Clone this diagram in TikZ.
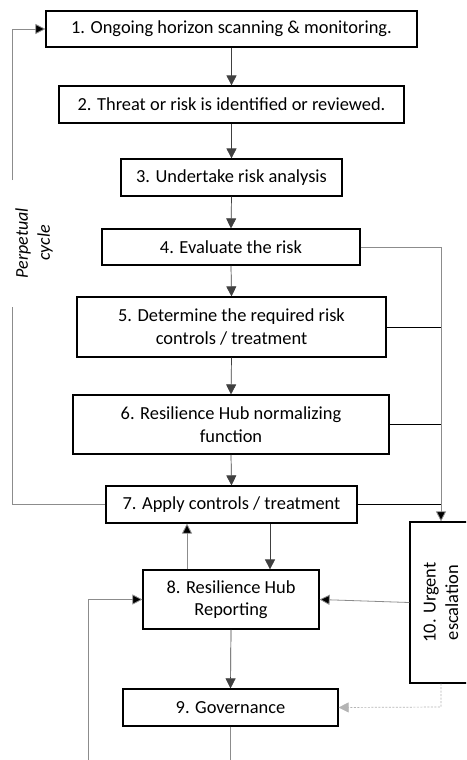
\documentclass[tikz,border=0pt]{standalone}
\usepackage{fontspec}
\setmainfont{Carlito}
\usetikzlibrary{arrows.meta}
\definecolor{linegray}{HTML}{8C8C8C}
\definecolor{lightg}{HTML}{B4B4B4}
\begin{document}
\begin{tikzpicture}[x=1pt,y=-1pt,
  box/.style={draw=black, line width=1.2pt, inner sep=0pt, align=center,
    font=\fontsize{18.4}{22.5}\selectfont},
  tip/.style={-{Triangle[width=10pt,length=10pt]}},
  conn/.style={draw=black!75, line width=0.7pt},
  gconn/.style={draw=linegray, line width=0.8pt},
  bconn/.style={draw=black, line width=0.8pt}]
\useasboundingbox (0,0) rectangle (466,760);
\clip (0,0) rectangle (466,760);
\fill[white] (0,0) rectangle (466,760);
% boxes
\node[box, minimum width=371pt, minimum height=36pt] (b1) at (231.5,29) {1. Ongoing horizon scanning \& monitoring.};
\node[box, minimum width=345pt, minimum height=37pt] (b2) at (231.5,104.5) {2. Threat or risk is identified or reviewed.};
\node[box, minimum width=221pt, minimum height=37pt] (b3) at (231.5,177.5) {3. Undertake risk analysis};
\node[box, minimum width=258pt, minimum height=36pt] (b4) at (231,247) {4. Evaluate the risk};
\node[box, minimum width=309pt, minimum height=60pt] (b5) at (231.5,327) {5. Determine the required risk\\controls / treatment};
\node[box, minimum width=316pt, minimum height=59pt] (b6) at (231,424.5) {6. Resilience Hub normalizing\\function};
\node[box, minimum width=251pt, minimum height=37pt] (b7) at (231.5,504.5) {7. Apply controls / treatment};
\node[box, minimum width=176pt, minimum height=59pt] (b8) at (231,599.5) {8. Resilience Hub\\Reporting};
\node[box, minimum width=215pt, minimum height=37pt] (b9) at (230.5,707.5) {9. Governance};
\node[box, minimum width=62pt, minimum height=161pt] (b10) at (441,602.5) {};
\node[rotate=90, align=center, font=\fontsize{18.4}{22.5}\selectfont] (t10) at (b10.center) {10. Urgent\\escalation};
\node[rotate=90, align=center, font=\fontsize{18}{22}\selectfont\itshape] (pc) at (34,243) {Perpetual\\cycle};
% helper coordinates
\coordinate (xl) at (12,0);
\coordinate (lgapA) at (12,307);
\coordinate (lgapB) at (12,180);
\coordinate (xr) at (441,0);
\coordinate (x270) at (270,0);
\coordinate (x187) at (187,0);
\coordinate (x88) at (88,0);
\coordinate (ybot) at (0,770);
\coordinate (ydash) at (0,707);
% main chain
\draw[conn, tip] (b1.south) -- (b2.north);
\draw[conn, tip] (b2.south) -- (b3.north);
\draw[conn, tip] (b3.south) -- (b4.north);
\draw[conn, tip] (b4.south) -- (b5.north);
\draw[conn, tip] (b5.south) -- (b6.north);
\draw[conn, tip] (b6.south) -- (b7.north);
\draw[conn, tip] (b7.south -| x270) -- (b8.north -| x270);
\draw[gconn, -{Triangle[width=10pt,length=10pt,fill=black]}] (b8.north -| x187) -- (b7.south -| x187);
\draw[conn, tip] (b8.south) -- (b9.north);
% perpetual cycle
\draw[gconn] (b7.west) -- (b7.west -| xl) -- (lgapA);
\draw[gconn, -{Triangle[width=10pt,length=10pt,fill=black]}] (lgapB) -- (b1.west -| xl) -- (b1.west);
% right escalation bus
\draw[gconn, -{Triangle[width=10pt,length=10pt,fill=black]}] (b4.east) -- (b4.east -| xr) -- (b10.north);
\draw[bconn] (b5.east) -- (b5.east -| xr);
\draw[bconn] (b6.east) -- (b6.east -| xr);
\draw[bconn] (b7.east) -- (b7.east -| xr);
% escalation to reporting and governance
\draw[gconn, -{Triangle[width=10pt,length=10pt,fill=black]}] (b10.west) -- (b8.east);
\draw[draw=lightg, line width=0.7pt, dash pattern=on 2pt off 1.5pt, -{Triangle[width=10pt,length=10pt,fill=lightg]}] (b10.south) -- (b10.south |- ydash) -- (b9.east);
% governance loop back to reporting
\draw[gconn] (b9.south) -- (b9.south |- ybot) -- (x88 |- ybot) -- (x88 |- b8.west);
\draw[gconn, -{Triangle[width=10pt,length=10pt,fill=black]}] (x88 |- b8.west) -- (b8.west);
\end{tikzpicture}
\end{document}
